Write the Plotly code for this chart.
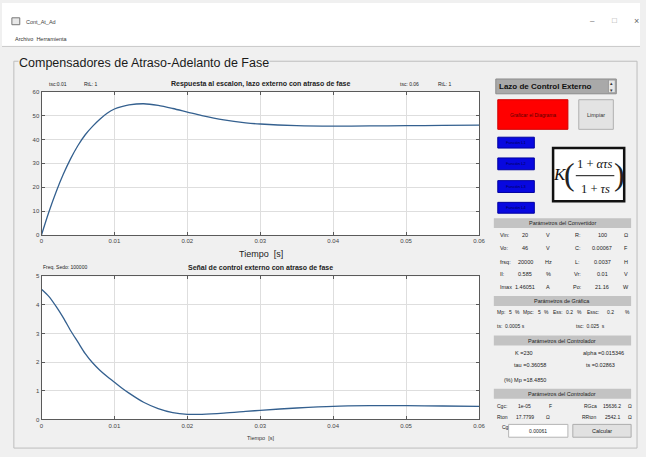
import plotly.graph_objects as go

# ---------------- data ----------------
t_ms = [0, 0.001, 0.002, 0.003, 0.004, 0.005, 0.006, 0.007, 0.008, 0.009, 0.010,
        0.011, 0.012, 0.014, 0.016, 0.018, 0.020, 0.022, 0.025, 0.028, 0.030, 0.035,
        0.040, 0.045, 0.050, 0.055, 0.060]
step_resp = [0, 9.5, 18, 25.5, 32, 37.5, 42, 45.5, 48.5, 51, 52.8,
             53.8, 54.5, 55.0, 54.3, 53, 51.5, 50, 48.2, 47, 46.5, 45.8,
             45.6, 45.7, 45.8, 45.9, 46.0]
control_sig = [4.55, 4.3, 3.95, 3.55, 3.1, 2.7, 2.3, 1.98, 1.72, 1.5, 1.3,
               1.1, 0.92, 0.6, 0.38, 0.24, 0.18, 0.18, 0.22, 0.28, 0.32, 0.40,
               0.46, 0.48, 0.48, 0.47, 0.46]
x_ticks = [0, 0.01, 0.02, 0.03, 0.04, 0.05, 0.06]
x_tick_text = ["0", "0.01", "0.02", "0.03", "0.04", "0.05", "0.06"]
y1_ticks = [0, 10, 20, 30, 40, 50, 60]
y2_ticks = [0, 1, 2, 3, 4, 5]

conv_rows = [["Vin:", "20", "V", "R:", "100", "Ω"],
             ["Vo:", "46", "V", "C:", "0.00067", "F"],
             ["frsq:", "20000", "Hz", "L:", "0.0037", "H"],
             ["Il:", "0.585", "%", "Vr:", "0.01", "V"],
             ["Imax", "1.46051", "A", "Po:", "21.16", "W"]]

W, H = 646, 457
NARROW = "Liberation Sans, Arial, sans-serif"
SANS = "Liberation Sans, Arial, sans-serif"
SERIF = "Liberation Serif, Times New Roman, serif"


def px(x):
    return x / W


def py(y):
    return 1 - y / H


shapes = []
annots = []


def rect(x0, y0, x1, y1, fill, line=None, lw=1, layer="above"):
    shapes.append(dict(type="rect", xref="paper", yref="paper",
                       x0=px(x0), x1=px(x1), y0=py(y1), y1=py(y0),
                       fillcolor=fill, layer=layer,
                       line=dict(color=line if line else fill, width=lw if line else 0)))


def hline(x0, x1, y, color, lw=1, layer="above"):
    shapes.append(dict(type="line", xref="paper", yref="paper",
                       x0=px(x0), x1=px(x1), y0=py(y), y1=py(y),
                       line=dict(color=color, width=lw), layer=layer))


def text(x, y, s, size=6, color="#222222", anchor="center", family=NARROW, bg=None):
    a = dict(xref="paper", yref="paper", x=px(x), y=py(y), text=s,
             showarrow=False, xanchor=anchor, yanchor="middle",
             font=dict(size=size, color=color, family=family), borderpad=0)
    if bg:
        a["bgcolor"] = bg
    annots.append(a)


# ---------------- figure ----------------
fig = go.Figure()
fig.add_trace(go.Scatter(x=t_ms, y=step_resp, mode="lines",
                         line=dict(color="#34608f", width=1.3, shape="spline", smoothing=0.8),
                         xaxis="x", yaxis="y", showlegend=False))
fig.add_trace(go.Scatter(x=t_ms, y=control_sig, mode="lines",
                         line=dict(color="#34608f", width=1.3, shape="spline", smoothing=0.8),
                         xaxis="x2", yaxis="y2", showlegend=False))

axis_common = dict(showline=True, linecolor="#5a5a5a", linewidth=1, mirror="allticks",
                   ticks="inside", ticklen=3, tickcolor="#5a5a5a", showgrid=True,
                   gridcolor="#dedede", zeroline=False,
                   tickfont=dict(size=6, color="#444444", family=NARROW))

# window chrome
rect(0, 0, 646, 44, "#ffffff", layer="below")
hline(0, 646, 44, "#c8c8c8", layer="below")
rect(10, 15, 18, 22, "#e8e8e8", line="#777777", lw=1)
text(23, 19, "Cont_At_Ad", size=5.5, anchor="left", color="#444444")
text(12, 36, "Archivo  Herramienta", size=5.5, anchor="left", color="#333333")
text(598, 18, "–", size=8, color="#666666", family=SANS)
text(620, 18, "□", size=8, color="#999999", family=SANS)
text(642, 18, "×", size=9, color="#666666", family=SANS)

# panel border
shapes.append(dict(type="rect", xref="paper", yref="paper", x0=px(12), x1=px(643),
                   y0=py(451), y1=py(59), line=dict(color="#bdbdbd", width=1),
                   fillcolor="rgba(0,0,0,0)", layer="below"))
text(16, 61, "Compensadores de Atraso-Adelanto de Fase", size=12.5, anchor="left",
     color="#1a1a1a", family=NARROW, bg="#f0f0f0")

# plot texts
text(47, 82, "tsc:0.01", size=5, anchor="left")
text(82, 82, "RtL: 1", size=5, anchor="left")
text(262, 82, "<b>Respuesta al escalon, lazo externo con atraso de fase</b>", size=7)
text(402, 82, "tsc: 0.06", size=5, anchor="left")
text(440, 82, "RtL: 1", size=5, anchor="left")
text(262, 254, "Tiempo  [s]", size=9, color="#222222")
text(40, 268, "Freq. Sedo: 100000", size=5, anchor="left")
text(262, 268, "<b>Señal de control externo con atraso de fase</b>", size=7)
text(262, 441, "Tiempo  [s]", size=5.5, color="#333333")

# right panel: dropdown
rect(500, 77, 622, 92, "#a9a9a9", line="#8c8c8c")
rect(614, 78, 621, 91, "#e6e6e6", line="#9a9a9a")
text(617.5, 81.5, "▴", size=5, color="#333333", family=SANS)
text(617.5, 88, "▾", size=5, color="#333333", family=SANS)
text(502, 84.5, "<b>Lazo de Control Externo</b>", size=8, anchor="left", color="#111111")

# buttons
rect(502, 98, 573, 128, "#ff0000", line="#d00000")
text(537.5, 113, "Graficar el Diagrama", size=5, color="#5a0000")
rect(584, 98, 619, 128, "#e3e3e3", line="#b0b0b0")
text(601.5, 113, "Limpiar", size=5.5, color="#333333")
for i, (y0, y1) in enumerate([(136, 147), (157, 169), (180, 192), (202, 213)]):
    rect(502, y0, 539, y1, "#0808e0", line="#0000a0")
    text(520.5, (y0 + y1) / 2, "Función L%d" % (i + 1), size=4, color="#000050")

# formula box
rect(558, 147, 630, 201, "#ffffff", line="#111111", lw=2.5)
text(565, 174, "<i>K</i>", size=17, family=SERIF, color="#111111")
text(575, 173, "(", size=32, family=SERIF, color="#222222")
text(625, 173, ")", size=32, family=SERIF, color="#222222")
text(600.5, 163, "1 + <i>ατs</i>", size=12.5, family=SERIF, color="#111111")
hline(581, 620, 175, "#111111", lw=1)
text(600.5, 188, "1 + <i>τs</i>", size=12.5, family=SERIF, color="#111111")

# converter params
HDR = "#c3c3c3"
rect(498, 218, 637, 228, HDR)
text(567.5, 223, "Parámetros del Convertidor", size=5.5, color="#222222")
cols = [(503, "left"), (530, "center"), (553, "center"), (583, "center"), (608, "center"), (632, "center")]
for row, yy in zip(conv_rows, [235, 248, 262, 275, 288]):
    for (xx, anc), s in zip(cols, row):
        text(xx, yy, s, size=5.5, anchor=anc)

rect(498, 297, 637, 307, HDR)
text(567.5, 302, "Parámetros de Gráfica", size=5.5, color="#222222")
for xx, s in [(500, "Mp:"), (515, "5"), (522, "%"), (527, "Mpc:"), (544, "5"), (551, "%"),
              (557, "Ess:"), (575, "0.2"), (585, "%"), (591, "Essc:"), (616, "0.2"), (633, "%")]:
    text(xx, 313, s, size=5, anchor="left" if s.endswith(":") else "center")
text(500, 327, "ts:  0.0005 s", size=5, anchor="left")
text(580, 327, "tsc:  0.025  s", size=5, anchor="left")

rect(498, 337, 637, 347, HDR)
text(567.5, 342, "Parámetros del Controlador", size=5.5, color="#222222")
text(518, 355, "K =230", size=5.5, anchor="left")
text(587, 355, "alpha =0.015346", size=5.5, anchor="left")
text(517, 367, "tau =0.36058", size=5.5, anchor="left")
text(590, 367, "ts =0.02863", size=5.5, anchor="left")
text(507, 382, "(%) Mp =18.4850", size=5.5, anchor="left")

rect(498, 391, 637, 401, HDR)
text(567.5, 396, "Parámetros del Controlador", size=5.5, color="#222222")
for xx, s in [(500, "Cgc:"), (529, "1e-05"), (555, "F"), (588, "RGca"), (618, "15636.2"), (636, "Ω")]:
    text(xx, 408, s, size=5, anchor="left" if s in ("Cgc:", "RGca") else "center")
for xx, s in [(500, "Rton"), (530, "17.7799"), (553, "Ω"), (586, "RRton"), (619, "2542.1"), (636, "Ω")]:
    text(xx, 420, s, size=5, anchor="left" if s in ("Rton", "RRton") else "center")
text(505, 430, "Cg", size=5, anchor="left")
rect(513, 427, 573, 440, "#ffffff", line="#b5b5b5")
text(543, 433.5, "0.00061", size=5)
rect(578, 427, 637, 440, "#e1e1e1", line="#adadad")
text(607.5, 433.5, "Calcular", size=5.5)

fig.update_layout(
    width=W, height=H, margin=dict(l=0, r=0, t=0, b=0),
    paper_bgcolor="#f0f0f0", plot_bgcolor="#ffffff",
    xaxis=dict(domain=[px(40), px(483)], range=[0, 0.06], tickvals=x_ticks,
               ticktext=x_tick_text, anchor="y", **axis_common),
    yaxis=dict(domain=[py(235), py(90)], range=[0, 60], tickvals=y1_ticks,
               anchor="x", **axis_common),
    xaxis2=dict(domain=[px(40), px(483)], range=[0, 0.06], tickvals=x_ticks,
                ticktext=x_tick_text, anchor="y2", **axis_common),
    yaxis2=dict(domain=[py(422), py(277)], range=[0, 5], tickvals=y2_ticks,
                anchor="x2", **axis_common),
    shapes=shapes, annotations=annots,
)

fig.write_html("out.html")
